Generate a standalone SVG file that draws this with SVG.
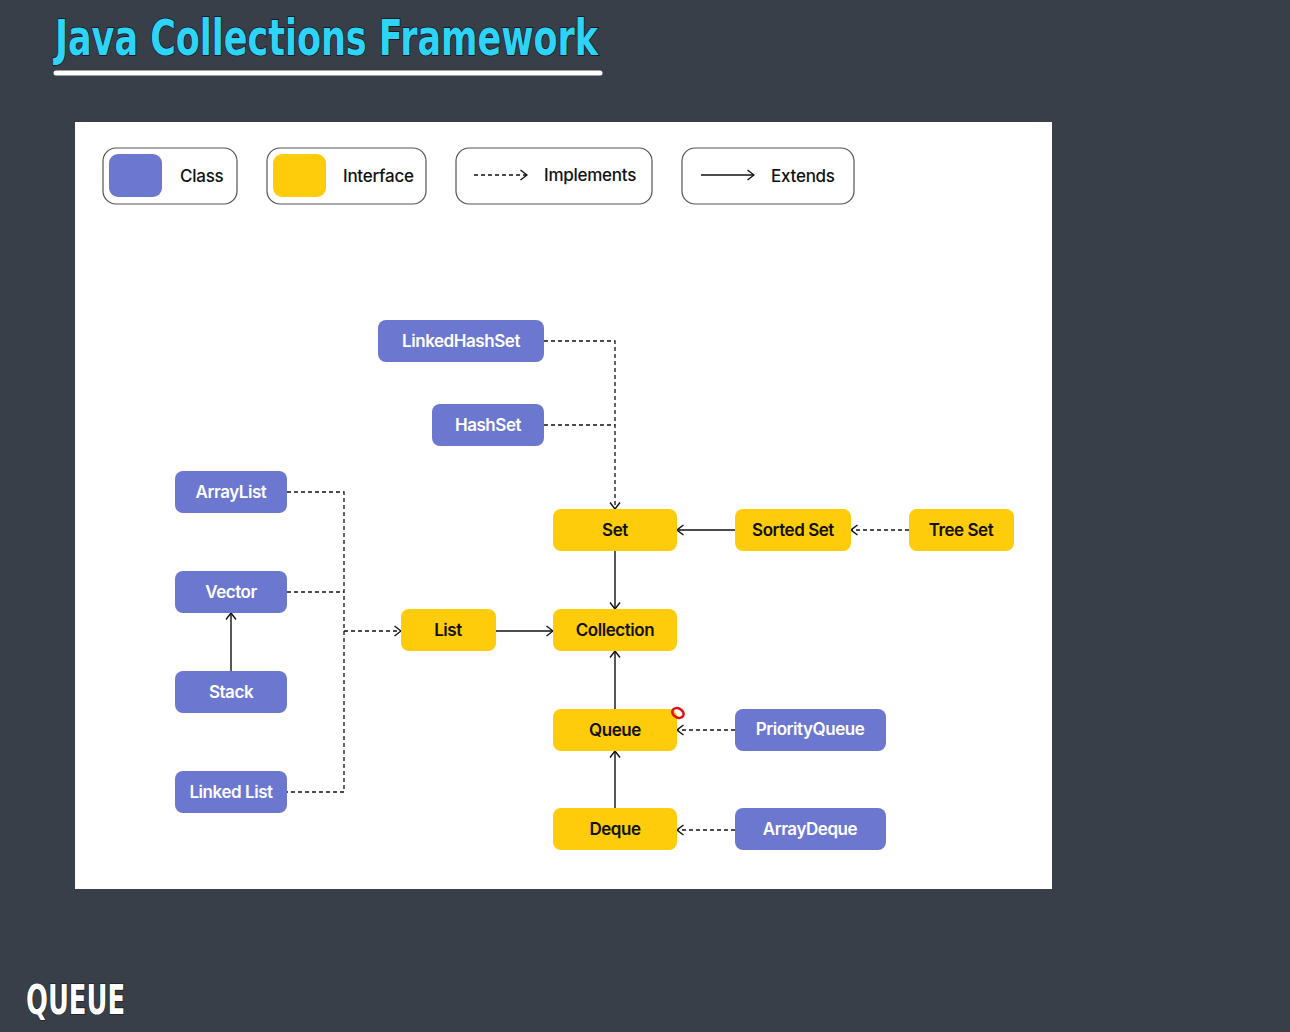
<svg xmlns="http://www.w3.org/2000/svg" width="1290" height="1032" viewBox="0 0 1290 1032">
<defs>
<marker id="ah" viewBox="0 0 8 12" refX="7.5" refY="6" markerWidth="8" markerHeight="12" markerUnits="userSpaceOnUse" orient="auto">
<path d="M1,1 L7.5,6 L1,11" fill="none" stroke="#111" stroke-width="1.4"/>
</marker>
<style>
.cls{fill:#6C78D0}
.itf{fill:#FFCC0C}
.lt{font-family:Inter,"Liberation Sans",sans-serif;font-size:17px;font-weight:600;letter-spacing:-0.45px;text-anchor:middle;dominant-baseline:central}
.w{fill:#ffffff}
.k{fill:#111111}
.leg{fill:#fff;stroke:#555;stroke-width:1.2}
.lgt{font-family:Inter,"Liberation Sans",sans-serif;font-size:17px;font-weight:500;letter-spacing:-0.25px;fill:#111;dominant-baseline:central}
.d{fill:none;stroke:#111;stroke-width:1.3;stroke-dasharray:4 3}
.s{fill:none;stroke:#111;stroke-width:1.4}
</style>
</defs>
<rect width="1290" height="1032" fill="#383F48"/>
<g id="title">
<text x="55" y="55" font-family="'DejaVu Sans Condensed','DejaVu Sans',sans-serif" font-weight="bold" font-size="50" fill="#2ED4F6" stroke="#0c1218" stroke-width="1.5" paint-order="stroke" textLength="543" lengthAdjust="spacingAndGlyphs">Java Collections Framework</text>
<line x1="56" y1="73" x2="600" y2="73" stroke="#ffffff" stroke-width="5" stroke-linecap="round"/>
</g>
<rect x="75" y="122" width="977" height="767" fill="#ffffff"/>
<g id="legend">
<rect class="leg" x="103" y="148" width="134" height="56" rx="13"/>
<rect class="cls" x="109" y="154" width="53" height="43" rx="9"/>
<text class="lgt" x="180" y="176">Class</text>
<rect class="leg" x="267" y="148" width="159" height="56" rx="13"/>
<rect class="itf" x="273" y="154" width="53" height="43" rx="9"/>
<text class="lgt" x="343" y="176">Interface</text>
<rect class="leg" x="456" y="148" width="196" height="56" rx="13"/>
<line class="d" x1="474" y1="175" x2="527" y2="175" stroke-dasharray="3 3" marker-end="url(#ah)"/>
<text class="lgt" x="544" y="175">Implements</text>
<rect class="leg" x="682" y="148" width="172" height="56" rx="13"/>
<line class="s" x1="701" y1="175" x2="754" y2="175" marker-end="url(#ah)"/>
<text class="lgt" x="771" y="176">Extends</text>
</g>
<g id="connectors">
<polyline class="d" points="544,341 615,341 615,509" marker-end="url(#ah)"/>
<line class="d" x1="544" y1="425" x2="615" y2="425"/>
<line class="s" x1="615" y1="551" x2="615" y2="609" marker-end="url(#ah)"/>
<line class="s" x1="735" y1="530" x2="677" y2="530" marker-end="url(#ah)"/>
<line class="d" x1="909" y1="530" x2="851" y2="530" marker-end="url(#ah)"/>
<polyline class="d" points="287,492 344,492 344,792 287,792"/>
<line class="d" x1="287" y1="592" x2="344" y2="592"/>
<line class="d" x1="344" y1="631" x2="401" y2="631" marker-end="url(#ah)"/>
<line class="s" x1="231" y1="671" x2="231" y2="613" marker-end="url(#ah)"/>
<line class="s" x1="496" y1="631" x2="553" y2="631" marker-end="url(#ah)"/>
<line class="s" x1="615" y1="709" x2="615" y2="651" marker-end="url(#ah)"/>
<line class="s" x1="615" y1="808" x2="615" y2="751" marker-end="url(#ah)"/>
<line class="d" x1="735" y1="730" x2="677" y2="730" marker-end="url(#ah)"/>
<line class="d" x1="735" y1="830" x2="677" y2="830" marker-end="url(#ah)"/>
</g>
<g id="LinkedHashSet"><rect class="cls" x="378" y="320" width="166" height="42" rx="8"/><text class="lt w" x="461" y="341">LinkedHashSet</text></g>
<g id="HashSet"><rect class="cls" x="432" y="404" width="112" height="42" rx="8"/><text class="lt w" x="488" y="425">HashSet</text></g>
<g id="ArrayList"><rect class="cls" x="175" y="471" width="112" height="42" rx="8"/><text class="lt w" x="231" y="492">ArrayList</text></g>
<g id="Vector"><rect class="cls" x="175" y="571" width="112" height="42" rx="8"/><text class="lt w" x="231" y="592">Vector</text></g>
<g id="Stack"><rect class="cls" x="175" y="671" width="112" height="42" rx="8"/><text class="lt w" x="231" y="692">Stack</text></g>
<g id="LinkedList"><rect class="cls" x="175" y="771" width="112" height="42" rx="8"/><text class="lt w" x="231" y="792">Linked List</text></g>
<g id="List"><rect class="itf" x="401" y="609" width="95" height="42" rx="8"/><text class="lt k" x="448" y="630">List</text></g>
<g id="Set"><rect class="itf" x="553" y="509" width="124" height="42" rx="8"/><text class="lt k" x="615" y="530">Set</text></g>
<g id="SortedSet"><rect class="itf" x="735" y="509" width="116" height="42" rx="8"/><text class="lt k" x="793" y="530">Sorted Set</text></g>
<g id="TreeSet"><rect class="itf" x="909" y="509" width="105" height="42" rx="8"/><text class="lt k" x="961" y="530">Tree Set</text></g>
<g id="Collection"><rect class="itf" x="553" y="609" width="124" height="42" rx="8"/><text class="lt k" x="615" y="630">Collection</text></g>
<g id="Queue"><rect class="itf" x="553" y="709" width="124" height="42" rx="8"/><text class="lt k" x="615" y="730">Queue</text></g>
<g id="Deque"><rect class="itf" x="553" y="808" width="124" height="42" rx="8"/><text class="lt k" x="615" y="829">Deque</text></g>
<g id="PriorityQueue"><rect class="cls" x="735" y="709" width="151" height="42" rx="8"/><text class="lt w" x="810" y="729">PriorityQueue</text></g>
<g id="ArrayDeque"><rect class="cls" x="735" y="808" width="151" height="42" rx="8"/><text class="lt w" x="810" y="829">ArrayDeque</text></g>
<ellipse cx="678" cy="713" rx="6" ry="4.5" transform="rotate(30 678 713)" fill="none" stroke="#E01010" stroke-width="2.5"/>
<text x="26" y="1014" font-family="'DejaVu Sans Condensed','DejaVu Sans',sans-serif" font-weight="bold" font-size="40" fill="#ffffff" stroke="#0c1218" stroke-width="1.2" paint-order="stroke" textLength="99" lengthAdjust="spacingAndGlyphs">QUEUE</text>
</svg>
